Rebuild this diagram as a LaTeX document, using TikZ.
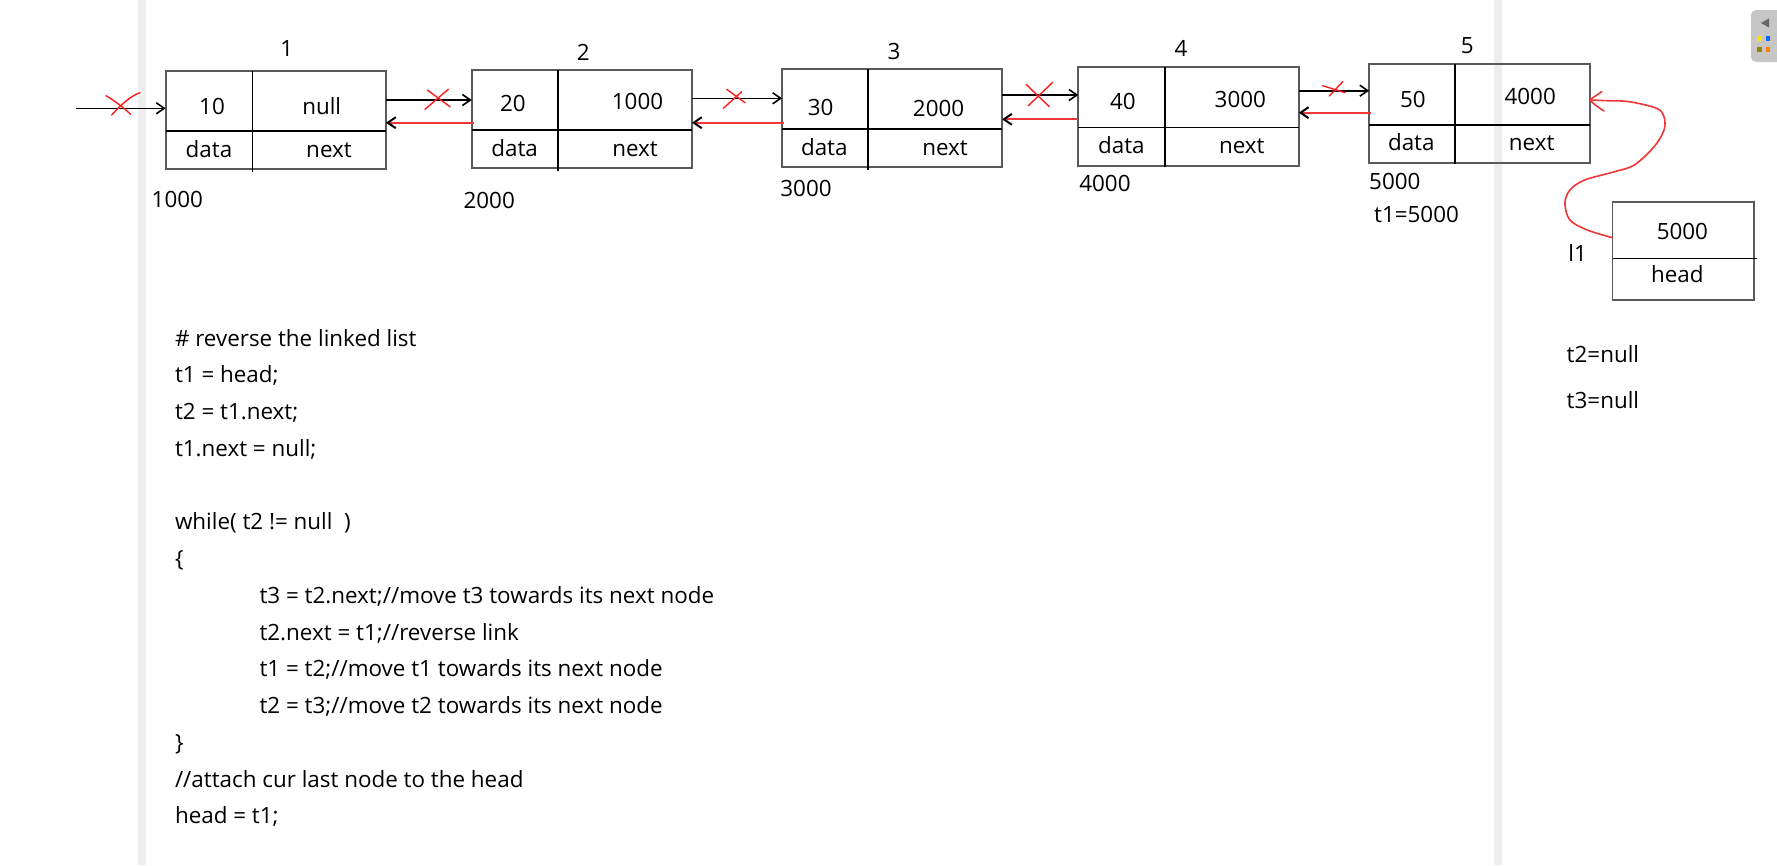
\documentclass[tikz,border=0pt]{standalone}
\usepackage{fontspec}
\setmainfont{Open Sans}
\usetikzlibrary{arrows.meta}
\newcommand\myfs{\fontsize{22.4}{27}\selectfont}
\definecolor{redln}{RGB}{240,55,55}
\definecolor{redx}{RGB}{255,30,30}
\definecolor{barg}{RGB}{238,238,238}
\definecolor{boxg}{RGB}{90,90,90}
\tikzset{
  llbox/.style={draw=boxg, line width=1.7pt, minimum height=98.6pt, inner sep=0, outer sep=0},
  divl/.style={draw=black, line width=1.6pt},
  lbl/.style={inner sep=0, outer sep=0, anchor=base, font=\myfs},
  lblw/.style={inner sep=0, outer sep=0, anchor=base west, font=\myfs},
  blk/.style={draw=black, line width=1.6pt, -{Straight Barb[length=8pt,width=11pt]}},
  rback/.style={draw=redln, line width=2pt, -{Straight Barb[length=8pt,width=11pt,color=black]}},
  xmark/.style={draw=redx, line width=1.4pt, line cap=round},
}
\begin{document}
\begin{tikzpicture}[x=1pt,y=-1pt]
\useasboundingbox (0,0) rectangle (1777,865);
\fill[white] (0,0) rectangle (1777,865);
% side bars
\fill[barg] (138,0) rectangle (146,865);
\fill[barg] (1494,0) rectangle (1502,865);
% widget
\fill[gray!45, rounded corners=5pt] (1751,10) rectangle (1790,62);
\fill[black!60] (1761,23) -- (1769,18.5) -- (1769,27.5) -- cycle;
\fill[yellow!80!orange] (1757,36) rectangle (1762,41);
\fill[blue!60!cyan] (1766,36) rectangle (1770,41);
\fill[olive] (1757,47) rectangle (1762,52);
\fill[orange] (1766,47) rectangle (1770,52);

% boxes
\node[llbox, minimum width=220.3pt] (n1) at (275.85,120) {};
\node[llbox, minimum width=220.2pt, minimum height=98.3pt] (n2) at (581.9,119.15) {};
\node[llbox, minimum width=220pt, minimum height=98.3pt] (n3) at (892.1,118.15) {};
\node[llbox, minimum width=220.5pt, minimum height=99pt] (n4) at (1188.55,116.2) {};
\node[llbox, minimum width=220.5pt, minimum height=99pt] (n5) at (1479.45,113.2) {};
\node[llbox, minimum width=141.7pt, minimum height=98.3pt] (hd) at (1683.35,250.85) {};

% dividers
\draw[divl] (n1.west |- 0,130.7) -- (n1.east |- 0,130.7);
\draw[divl] (252.3,0 |- n1.north) -- (252.3,171.7);
\draw[divl] (n2.west |- 0,130) -- (n2.east |- 0,130);
\draw[divl] (558.2,0 |- n2.north) -- (558.2,170.7);
\draw[divl] (n3.west |- 0,129) -- (n3.east |- 0,129);
\draw[divl] (868.2,0 |- n3.north) -- (868.2,169.7);
\draw[divl] (n4.west |- 0,127.3) -- (n4.east |- 0,127.3);
\draw[divl] (1165,0 |- n4.north) -- (1165,167.3);
\draw[divl] (n5.west |- 0,124.7) -- (n5.east |- 0,124.7);
\draw[divl] (1454.9,0 |- n5.north) -- (1454.9,164.3);
\draw[divl] (hd.west |- 0,258.3) -- (1756.7,258.3);

% box texts
\node[lbl] (v1) at (212,114.4) {10};
\node[lbl] (p1) at (321.7,114.4) {null};
\node[lbl] (d1) at (209,157) {data};
\node[lbl] (x1) at (329,157) {next};
\node[lbl] (k1) at (286.7,56.7) {1};
\node[lblw] (a1) at (151.7,207) {1000};

\node[lbl] (v2) at (512.9,111) {20};
\node[lbl] (p2) at (637.5,109.4) {1000};
\node[lbl] (d2) at (514.6,156) {data};
\node[lbl] (x2) at (635,156) {next};
\node[lbl] (k2) at (583.2,60) {2};
\node[lblw] (a2) at (463.6,208.4) {2000};

\node[lbl] (v3) at (820.7,115.4) {30};
\node[lbl] (p3) at (938.6,116.7) {2000};
\node[lbl] (d3) at (824.3,155.4) {data};
\node[lbl] (x3) at (945,155.4) {next};
\node[lbl] (k3) at (894,59.4) {3};
\node[lblw] (a3) at (780.4,196.7) {3000};

\node[lbl] (v4) at (1122.9,109.4) {40};
\node[lbl] (p4) at (1240.3,107.7) {3000};
\node[lbl] (d4) at (1121.4,153.4) {data};
\node[lbl] (x4) at (1241.8,153.4) {next};
\node[lbl] (k4) at (1180.9,56) {4};
\node[lblw] (a4) at (1079.3,191.7) {4000};

\node[lbl] (v5) at (1412.8,107) {50};
\node[lbl] (p5) at (1530.2,104.4) {4000};
\node[lbl] (d5) at (1411.3,150.4) {data};
\node[lbl] (x5) at (1531.7,150.4) {next};
\node[lbl] (k5) at (1467.3,53.7) {5};
\node[lblw] (a5) at (1369.2,189.4) {5000};
\node[lblw] (t1v) at (1374.1,222.7) {t1=5000};

\node[lbl] (hv) at (1682.4,239.4) {5000};
\node[lbl] (hn) at (1677.4,282.7) {head};
\node[lblw] (l1) at (1568.4,261) {l1};
\node[lblw] (t2v) at (1566.7,362.3) {t2=null};
\node[lblw] (t3v) at (1566.7,408.3) {t3=null};

% forward arrows
\coordinate (start) at (76,108.3);
\draw[blk] (start) -- (n1.west |- start);
\draw[blk] (n1.east |- 0,100) -- (n2.west |- 0,100);
\draw[blk] (n2.east |- 0,98.3) -- (n3.west |- 0,98.3);
\draw[blk] (n3.east |- 0,95) -- (n4.west |- 0,95);
\draw[blk] (n4.east |- 0,90.7) -- (n5.west |- 0,90.7);
% back arrows
\draw[rback] ([xshift=2pt]n2.west |- 0,122.7) -- (n1.east |- 0,122.7);
\draw[rback] ([xshift=2pt]n3.west |- 0,122.7) -- (n2.east |- 0,122.7);
\draw[rback] (n4.west |- 0,119.3) -- (n3.east |- 0,119.3);
\draw[rback] ([xshift=2pt]n5.west |- 0,112.7) -- (n4.east |- 0,112.7);

% red crosses
\draw[xmark] (106,95.7) .. controls (115,101) and (124,108) .. (130.7,114.3);
\draw[xmark] (111.7,115) .. controls (120,106) and (130,96) .. (140,92.7);
\draw[xmark] (427.3,90) -- (450,106.7);
\draw[xmark] (425,109.3) -- (448.3,89.3);
\draw[xmark] (726.7,89.3) -- (745,102.7);
\draw[xmark] (723.3,108.3) -- (741.7,91.7);
\draw[xmark] (1026,84.3) -- (1049.3,106.7);
\draw[xmark] (1028.3,105.7) -- (1052.7,82.3);
\draw[xmark] (1322.7,85.7) -- (1345,92.7);
\draw[xmark] (1329.3,96) -- (1342.7,81.7);

% red curve from head box to node 5
\coordinate (hs) at (hd.west |- 0,237.7);
\coordinate (tip) at (n5.east |- 0,100);
\draw[draw=redln, line width=1.6pt, line cap=round] plot[smooth, tension=0.55] coordinates {
  (hs) (1587.2,230) (1569.9,220) (1564.9,203.3) (1569.9,190) (1584.7,180)
  (1614.5,171.7) (1634.3,165) (1654.1,146.7) (1664,130) (1664,116.7)
  (1656.6,108.3) (1629.3,101.7) (1607,100.7) (tip)};
\draw[draw=redln, line width=1.6pt, line cap=round] (tip) -- (1601.7,91.7);
\draw[draw=redln, line width=1.6pt, line cap=round] (tip) .. controls (1595,105) .. (1604,111);

% code
\node[lblw] (c0) at (175,346) {\# reverse the linked list};
\node[lblw] (c1) at (175,382.75) {t1 = head;};
\node[lblw] (c2) at (175,419.5) {t2 = t1.next;};
\node[lblw] (c3) at (175,456.25) {t1.next = null;};
\node[lblw] (c5) at (175,529.75) {while( t2 != null~~)};
\node[lblw] (c6) at (175,566.5) {\{};
\node[lblw] (c7) at (259.5,603.25) {t3 = t2.next;//move t3 towards its next node};
\node[lblw] (c8) at (259.5,640) {t2.next = t1;//reverse link};
\node[lblw] (c9) at (259.5,676.75) {t1 = t2;//move t1 towards its next node};
\node[lblw] (c10) at (259.5,713.5) {t2 = t3;//move t2 towards its next node};
\node[lblw] (c11) at (175,750.25) {\}};
\node[lblw] (c12) at (175,787) {//attach cur last node to the head};
\node[lblw] (c13) at (175,823.75) {head = t1;};
\end{tikzpicture}
\end{document}
